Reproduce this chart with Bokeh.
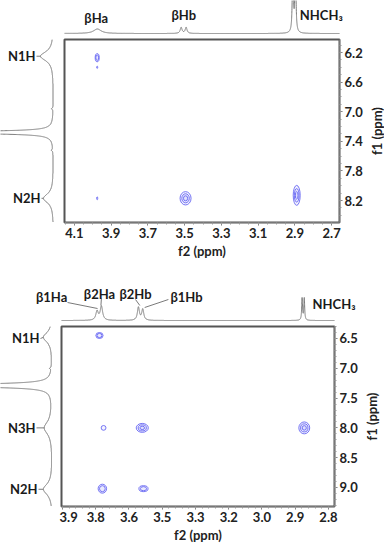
import numpy as np
from bokeh.plotting import figure
from bokeh.layouts import column, row
from bokeh.models import Range1d, FixedTicker, Label, PrintfTickFormatter
from bokeh.embed import file_html
from bokeh.resources import INLINE

# ======================= DATA: panel A (upper spectrum) =======================
a_x_ticks = [4.1, 3.9, 3.7, 3.5, 3.3, 3.1, 2.9, 2.7]
a_y_ticks = [6.2, 6.6, 7.0, 7.4, 7.8, 8.2]
# f2 projection (top): peak centre (ppm), height, half width (ppm)
a_f2_ppm = [3.975, 3.519, 3.492, 2.911, 2.897]
a_f2_height = [4.5, 6.0, 6.0, 80.0, 80.0]
a_f2_hw = [0.025, 0.006, 0.006, 0.003, 0.003]
# f1 projection (left)
a_f1_ppm = [6.25, 6.96, 7.28, 7.52, 8.17]
a_f1_height = [13.0, 1.5, 200.0, 1.5, 10.0]
a_f1_hw = [0.075, 0.01, 0.0135, 0.01, 0.075]
a_f2_names = ["βHa", "βHb", "NHCH₃"]
a_f1_names = ["N1H", "N2H"]
# cross peaks
a_cp_f2 = [3.976, 3.976, 3.976, 3.495, 2.890]
a_cp_f1 = [6.27, 6.40, 8.17, 8.17, 8.13]
a_cp_w = [0.022, 0.006, 0.006, 0.060, 0.038]
a_cp_h = [0.11, 0.03, 0.04, 0.18, 0.27]
a_cp_lev = [2, 1, 1, 3, 3]

# ======================= DATA: panel B (lower spectrum) =======================
b_x_tick_labels = ["3.9", "3.8", "3.6", "3.5", "3.3", "3.2", "3.0", "2.9", "2.8"]
b_y_ticks = [6.5, 7.0, 7.5, 8.0, 8.5, 9.0]
b_f2_ppm = [3.757, 3.739, 3.586, 3.568, 2.909, 2.900]
b_f2_height = [9.0, 14.0, 13.0, 11.0, 22.0, 22.0]
b_f2_hw = [0.006, 0.006, 0.005, 0.005, 0.002, 0.002]
b_f1_ppm = [6.48, 7.00, 7.29, 8.00, 9.03]
b_f1_height = [9.0, 1.5, 200.0, 8.0, 9.0]
b_f1_hw = [0.10, 0.01, 0.021, 0.13, 0.11]
b_f2_names = ["β1Ha", "β2Ha", "β2Hb", "β1Hb", "NHCH₃"]
b_f1_names = ["N1H", "N3H", "N2H"]
b_cp_f2 = [3.747, 3.730, 3.570, 2.900, 3.735, 3.565]
b_cp_f1 = [6.45, 8.00, 8.00, 8.00, 9.02, 9.02]
b_cp_w = [0.030, 0.020, 0.050, 0.045, 0.035, 0.038]
b_cp_h = [0.10, 0.08, 0.15, 0.20, 0.15, 0.10]
b_cp_lev = [2, 1, 3, 3, 2, 2]

# ======================= STYLE =======================
FONT = "Lato"
SPEC = "#7a7a7a"
CP = "#5f5ff2"
LEVEL_SCALE = [1.0, 0.68, 0.38]
W = 384


def lorentz(grid, ppm, height, hw):
    out = np.zeros_like(grid)
    for c, h, w in zip(ppm, height, hw):
        out += h * w ** 2 / ((grid - c) ** 2 + w ** 2)
    return out


def bare(p):
    p.outline_line_color = None
    p.grid.visible = False
    p.background_fill_color = "white"
    p.border_fill_color = "white"


def label_style(ax):
    ax.axis_label_text_font = FONT
    ax.axis_label_text_font_style = "bold"
    ax.axis_label_text_font_size = "13px"
    ax.axis_label_text_color = "#222222"


def main_fig(xr, yr, fw, fh, rb, bb, xticks, xminor, yticks, yminor, ystand):
    p = figure(frame_width=fw, frame_height=fh, x_range=xr, y_range=yr,
               y_axis_location="right", output_backend="svg", toolbar_location=None,
               title=None, min_border_left=2, min_border_top=2,
               min_border_right=rb, min_border_bottom=bb)
    p.grid.visible = False
    p.outline_line_color = "#555555"
    p.outline_line_width = 2
    p.xaxis.ticker = FixedTicker(ticks=xticks, minor_ticks=xminor)
    p.yaxis.ticker = FixedTicker(ticks=yticks, minor_ticks=yminor)
    p.xaxis.formatter = PrintfTickFormatter(format="%.1f")
    p.yaxis.formatter = PrintfTickFormatter(format="%.1f")
    for ax in (p.xaxis, p.yaxis):
        ax.axis_line_color = "#777777"
        ax.major_tick_line_color = "#777777"
        ax.minor_tick_line_color = "#999999"
        ax.major_tick_in = 0
        ax.major_tick_out = 3
        ax.minor_tick_in = 0
        ax.minor_tick_out = 2
        ax.major_label_text_font = FONT
        ax.major_label_text_font_style = "bold"
        ax.major_label_text_font_size = "13px"
        ax.major_label_text_color = "#222222"
        ax.major_label_standoff = 2
        label_style(ax)
        ax.axis_label_standoff = 2
    p.yaxis.major_label_standoff = ystand
    p.xaxis.axis_label = "f2 (ppm)"
    return p


def f1_label_strip(yr, fh, border, standoff):
    # narrow strip whose left axis carries the f1 title (reads bottom-to-top, centred)
    s = figure(frame_width=1, frame_height=fh, x_range=Range1d(0, 1), y_range=yr,
               x_axis_type=None, y_axis_location="left", output_backend="svg",
               toolbar_location=None, title=None, min_border_left=border,
               min_border_right=0, min_border_top=2, min_border_bottom=0)
    bare(s)
    ax = s.yaxis
    ax.ticker = FixedTicker(ticks=[])
    ax.axis_line_color = None
    ax.major_tick_out = 0
    ax.minor_tick_out = 0
    ax.major_label_text_font_size = "0px"
    ax.axis_label = "f1 (ppm)"
    ax.axis_label_standoff = standoff
    label_style(ax)
    return s


def cross_peaks(p, xs, ys, ws, hs, levs):
    ex, ey, ew, eh = [], [], [], []
    for x, y, w, h, n in zip(xs, ys, ws, hs, levs):
        for s in LEVEL_SCALE[:n]:
            ex.append(x); ey.append(y); ew.append(w * s); eh.append(h * s)
    p.ellipse(x=ex, y=ey, width=ew, height=eh, line_color=CP, line_width=1.0,
              line_alpha=0.85, fill_color=CP, fill_alpha=0.07)


def txt(p, x, y, t, align="center", base="middle"):
    p.add_layout(Label(x=x, y=y, text=t, text_font=FONT, text_font_style="bold",
                       text_font_size="13px", text_color="#1a1a1a",
                       text_align=align, text_baseline=base))


def wide_range(r, left_px, frame_px, right_px):
    # the projection strip spans the full width; keep the same ppm-per-pixel as the frame
    per_px = (r.start - r.end) / frame_px
    return Range1d(r.start + left_px * per_px, r.end - right_px * per_px)


# ======================= PANEL A =======================
A_FL, A_FW, A_FH = 64, 275, 183
A_RB, A_LB = 24, 20
A_FR = W - A_FL - A_FW
axr = Range1d(4.154, 2.657)
ayr = Range1d(8.497, 6.024)
a_xminor = list(np.round(np.arange(4.15, 2.64, -0.05), 3))
a_yminor = list(np.round(np.arange(6.1, 8.51, 0.1), 3))
main_a = main_fig(axr, ayr, A_FW, A_FH, A_RB, 48, a_x_ticks, a_xminor, a_y_ticks, a_yminor, 2)
cross_peaks(main_a, a_cp_f2, a_cp_f1, a_cp_w, a_cp_h, a_cp_lev)
lab_a = f1_label_strip(ayr, A_FH, A_LB, 1)

top_a = figure(frame_width=W, frame_height=37, x_range=wide_range(axr, A_FL, A_FW, A_FR),
               y_range=Range1d(-4, 33), x_axis_type=None, y_axis_type=None,
               output_backend="svg", toolbar_location=None, title=None,
               min_border_left=0, min_border_right=0, min_border_top=0, min_border_bottom=0)
bare(top_a)
ga = np.linspace(axr.start, axr.end, 6000)
top_a.line(ga, lorentz(ga, a_f2_ppm, a_f2_height, a_f2_hw), line_color=SPEC, line_width=1)
txt(top_a, 3.981, 16, a_f2_names[0])
txt(top_a, 3.505, 19, a_f2_names[1])
txt(top_a, 2.873, 19, a_f2_names[2], align="left")

left_a = figure(frame_width=A_FL - 2, frame_height=A_FH, x_range=Range1d(53, -9), y_range=ayr,
                x_axis_type=None, y_axis_type=None, output_backend="svg",
                toolbar_location=None, title=None, min_border_left=0,
                min_border_right=0, min_border_top=2, min_border_bottom=0)
bare(left_a)
gya = np.linspace(ayr.end, ayr.start, 6000)
left_a.line(lorentz(gya, a_f1_ppm, a_f1_height, a_f1_hw), gya, line_color=SPEC, line_width=1)
txt(left_a, 18, a_f1_ppm[0], a_f1_names[0], align="right")
txt(left_a, 13, a_f1_ppm[4], a_f1_names[1], align="right")
left_a.segment(x0=[17, 12], y0=[a_f1_ppm[0], a_f1_ppm[4]], x1=[13, 10],
               y1=[a_f1_ppm[0], a_f1_ppm[4]], line_color=SPEC, line_width=1)

# ======================= PANEL B =======================
B_FL, B_FW, B_FR, B_FH = 61, 273, 50, 180
bxr = Range1d(3.904, 2.775)
byr = Range1d(9.319, 6.299)
b_xticks = list(np.linspace(3.9, 2.8, len(b_x_tick_labels)))
b_xminor = list(np.linspace(3.9, 2.8, (len(b_x_tick_labels) - 1) * 5 + 1))
b_yminor = list(np.round(np.arange(6.3, 9.31, 0.1), 3))
main_b = main_fig(bxr, byr, B_FW, B_FH, 24, 44, b_xticks, b_xminor, b_y_ticks, b_yminor, 2)
main_b.xaxis.major_label_overrides = {t: l for t, l in zip(b_xticks, b_x_tick_labels)}
cross_peaks(main_b, b_cp_f2, b_cp_f1, b_cp_w, b_cp_h, b_cp_lev)
lab_b = f1_label_strip(byr, B_FH, B_FR - 24 - 1, 7)

top_b = figure(frame_width=W, frame_height=54, x_range=wide_range(bxr, B_FL, B_FW, B_FR),
               y_range=Range1d(-4, 50), x_axis_type=None, y_axis_type=None,
               output_backend="svg", toolbar_location=None, title=None,
               min_border_left=0, min_border_right=0, min_border_top=0, min_border_bottom=0)
bare(top_b)
gb = np.linspace(bxr.start, bxr.end, 6000)
top_b.line(gb, lorentz(gb, b_f2_ppm, b_f2_height, b_f2_hw), line_color=SPEC, line_width=1)
txt(top_b, 3.945, 24, b_f2_names[0])
txt(top_b, 3.747, 27, b_f2_names[1])
txt(top_b, 3.598, 27, b_f2_names[2])
txt(top_b, 3.387, 24, b_f2_names[3])
txt(top_b, 2.866, 17, b_f2_names[4], align="left")
top_b.segment(x0=[3.879, 3.739, 3.598, 3.462], y0=[18, 22, 21, 21],
              x1=[3.755, 3.741, 3.580, 3.560], y1=[12, 15, 15, 13],
              line_color=SPEC, line_width=1)

left_b = figure(frame_width=B_FL - 2, frame_height=B_FH, x_range=Range1d(52, -7), y_range=byr,
                x_axis_type=None, y_axis_type=None, output_backend="svg",
                toolbar_location=None, title=None, min_border_left=0,
                min_border_right=0, min_border_top=2, min_border_bottom=0)
bare(left_b)
gyb = np.linspace(byr.end, byr.start, 6000)
left_b.line(lorentz(gyb, b_f1_ppm, b_f1_height, b_f1_hw), gyb, line_color=SPEC, line_width=1)
txt(left_b, 13, 6.50, b_f1_names[0], align="right")
txt(left_b, 17, b_f1_ppm[3], b_f1_names[1], align="right")
txt(left_b, 15, b_f1_ppm[4], b_f1_names[2], align="right")
left_b.segment(x0=[12, 16, 14], y0=[6.50, b_f1_ppm[3], b_f1_ppm[4]], x1=[9, 8, 9],
               y1=[b_f1_ppm[0], b_f1_ppm[3], b_f1_ppm[4]], line_color=SPEC, line_width=1)

layout = column(top_a, row(left_a, main_a, lab_a), top_b, row(left_b, main_b, lab_b))
open("out.html", "w").write(file_html(layout, INLINE))
